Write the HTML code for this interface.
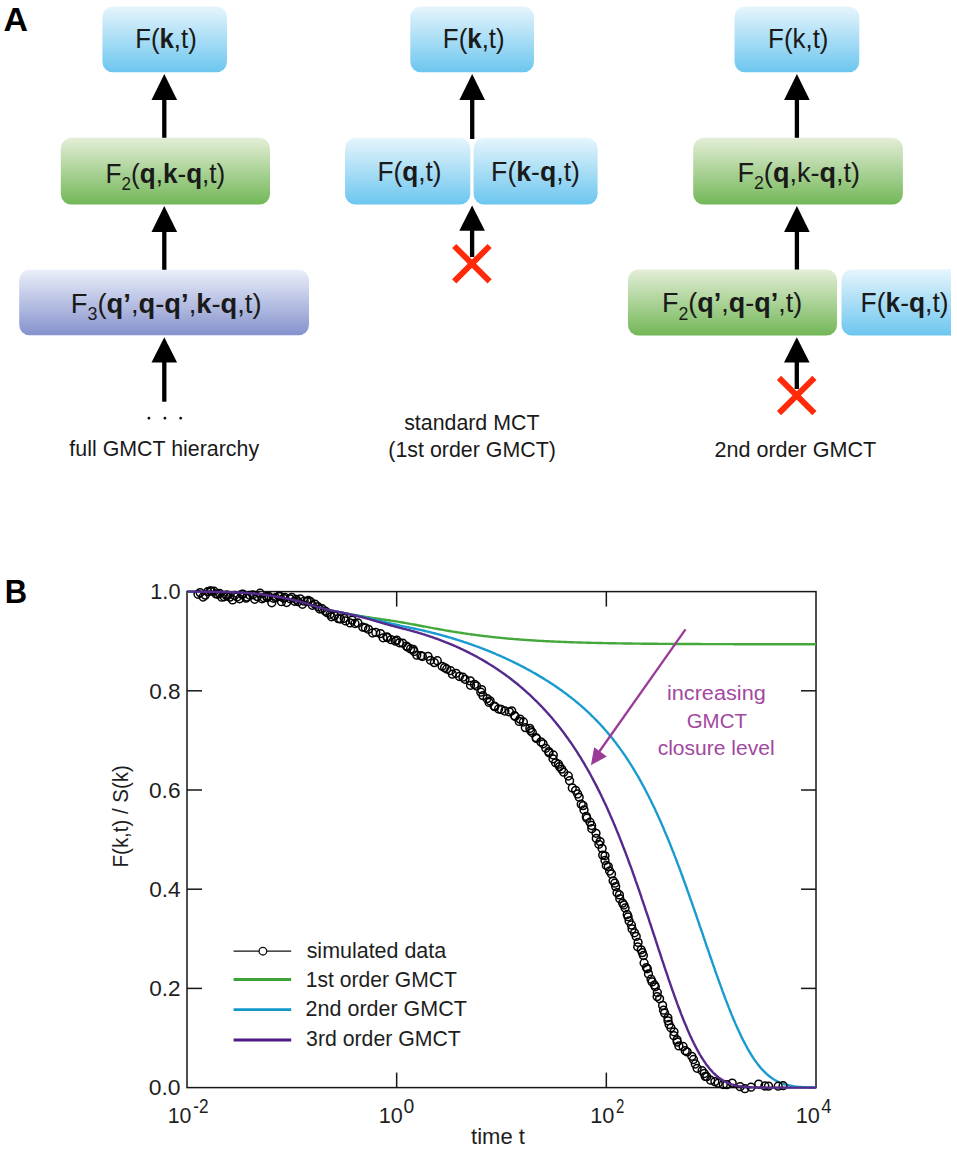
<!DOCTYPE html>
<html><head><meta charset="utf-8"><style>
html,body{margin:0;padding:0;background:#fff;width:957px;height:1150px;overflow:hidden;}
svg{display:block;font-family:"Liberation Sans",sans-serif;}
</style></head><body>
<svg width="957" height="1150" viewBox="0 0 957 1150">
<defs>
<linearGradient id="gb" x1="0" y1="0" x2="0" y2="1"><stop offset="0" stop-color="#e6f5fc"/><stop offset="1" stop-color="#6cc6ef"/></linearGradient>
<linearGradient id="gg" x1="0" y1="0" x2="0" y2="1"><stop offset="0" stop-color="#e4eed7"/><stop offset="1" stop-color="#72b757"/></linearGradient>
<linearGradient id="gp" x1="0" y1="0" x2="0" y2="1"><stop offset="0" stop-color="#eaeff9"/><stop offset="1" stop-color="#8592cd"/></linearGradient>
<clipPath id="clipR"><rect x="0" y="0" width="951" height="1150"/></clipPath>
</defs>
<rect width="957" height="1150" fill="#fff"/>
<rect x="102.4" y="6.5" width="124.6" height="65.8" rx="10.5" ry="10.5" fill="url(#gb)"/>
<path d="M164.3,74 L177.10000000000002,100 L151.5,100 Z" fill="#000"/><rect x="162.15" y="99" width="4.3" height="40" fill="#000"/>
<rect x="60.8" y="137.8" width="209.2" height="66.79999999999998" rx="10.5" ry="10.5" fill="url(#gg)"/>
<path d="M164.3,206 L177.10000000000002,232 L151.5,232 Z" fill="#000"/><rect x="162.15" y="231" width="4.3" height="39" fill="#000"/>
<rect x="19.2" y="269.7" width="289.8" height="65.60000000000002" rx="10.5" ry="10.5" fill="url(#gp)"/>
<path d="M164.3,337.2 L177.10000000000002,362.6 L151.5,362.6 Z" fill="#000"/><rect x="162.15" y="361.6" width="4.3" height="40.099999999999966" fill="#000"/>
<circle cx="148.9" cy="418.2" r="1.35" fill="#111"/>
<circle cx="164.9" cy="418.2" r="1.35" fill="#111"/>
<circle cx="180.7" cy="418.2" r="1.35" fill="#111"/>
<rect x="410.3" y="6.5" width="123.69999999999999" height="65.8" rx="10.5" ry="10.5" fill="url(#gb)"/>
<path d="M472.2,74 L485.0,100 L459.4,100 Z" fill="#000"/><rect x="470.05" y="99" width="4.3" height="40" fill="#000"/>
<rect x="345" y="137.8" width="125.30000000000001" height="66.79999999999998" rx="10.5" ry="10.5" fill="url(#gb)"/>
<rect x="473.6" y="137.8" width="124.0" height="66.79999999999998" rx="10.5" ry="10.5" fill="url(#gb)"/>
<path d="M472.1,205.5 L484.90000000000003,230.8 L459.3,230.8 Z" fill="#000"/><rect x="469.95000000000005" y="229.8" width="4.3" height="27.19999999999999" fill="#000"/>
<path d="M454.2,246.0 L489.59999999999997,281.4 M489.59999999999997,246.0 L454.2,281.4" stroke="#ff2a0a" stroke-width="5.9"/>
<rect x="734.5" y="6.5" width="124.79999999999995" height="65.8" rx="10.5" ry="10.5" fill="url(#gb)"/>
<path d="M796.9,74 L809.6999999999999,100 L784.1,100 Z" fill="#000"/><rect x="794.75" y="99" width="4.3" height="40" fill="#000"/>
<rect x="693.2" y="137.8" width="209.69999999999993" height="66.79999999999998" rx="10.5" ry="10.5" fill="url(#gg)"/>
<path d="M796.9,206 L809.6999999999999,232 L784.1,232 Z" fill="#000"/><rect x="794.75" y="231" width="4.3" height="39" fill="#000"/>
<rect x="628" y="269.5" width="209" height="66.0" rx="10.5" ry="10.5" fill="url(#gg)"/>
<rect x="841.5" y="269.5" width="123.5" height="66.0" rx="10.5" ry="10.5" fill="url(#gb)" clip-path="url(#clipR)"/>
<path d="M796.8,337.2 L809.5999999999999,362.5 L784.0,362.5 Z" fill="#000"/><rect x="794.65" y="361.5" width="4.3" height="27.5" fill="#000"/>
<path d="M779.0,377.8 L814.4000000000001,413.2 M814.4000000000001,377.8 L779.0,413.2" stroke="#ff2a0a" stroke-width="5.9"/>
<rect x="187.0" y="591.6" width="629.0" height="495.9999999999999" fill="none" stroke="#161616" stroke-width="1.5"/>
<line x1="396.66666666666663" y1="591.6" x2="396.66666666666663" y2="606.6" stroke="#161616" stroke-width="1.5"/>
<line x1="396.66666666666663" y1="1087.6" x2="396.66666666666663" y2="1072.6" stroke="#161616" stroke-width="1.5"/>
<line x1="606.3333333333333" y1="591.6" x2="606.3333333333333" y2="606.6" stroke="#161616" stroke-width="1.5"/>
<line x1="606.3333333333333" y1="1087.6" x2="606.3333333333333" y2="1072.6" stroke="#161616" stroke-width="1.5"/>
<line x1="187.0" y1="988.3999999999999" x2="202.0" y2="988.3999999999999" stroke="#161616" stroke-width="1.5"/>
<line x1="816.0" y1="988.3999999999999" x2="801.0" y2="988.3999999999999" stroke="#161616" stroke-width="1.5"/>
<line x1="187.0" y1="889.1999999999999" x2="202.0" y2="889.1999999999999" stroke="#161616" stroke-width="1.5"/>
<line x1="816.0" y1="889.1999999999999" x2="801.0" y2="889.1999999999999" stroke="#161616" stroke-width="1.5"/>
<line x1="187.0" y1="790.0" x2="202.0" y2="790.0" stroke="#161616" stroke-width="1.5"/>
<line x1="816.0" y1="790.0" x2="801.0" y2="790.0" stroke="#161616" stroke-width="1.5"/>
<line x1="187.0" y1="690.8" x2="202.0" y2="690.8" stroke="#161616" stroke-width="1.5"/>
<line x1="816.0" y1="690.8" x2="801.0" y2="690.8" stroke="#161616" stroke-width="1.5"/>
<path d="M187.0,591.60 L188.3,591.60 L189.5,591.60 L190.8,591.61 L192.0,591.61 L193.3,591.62 L194.6,591.62 L195.8,591.63 L197.1,591.64 L198.3,591.65 L199.6,591.66 L200.9,591.68 L202.1,591.69 L203.4,591.70 L204.6,591.72 L205.9,591.74 L207.2,591.75 L208.4,591.77 L209.7,591.79 L210.9,591.81 L212.2,591.83 L213.5,591.86 L214.7,591.88 L216.0,591.90 L217.3,591.93 L218.5,591.95 L219.8,591.98 L221.0,592.00 L222.3,592.03 L223.6,592.05 L224.8,592.08 L226.1,592.11 L227.3,592.14 L228.6,592.17 L229.9,592.20 L231.1,592.23 L232.4,592.26 L233.6,592.31 L234.9,592.35 L236.2,592.40 L237.4,592.46 L238.7,592.52 L239.9,592.58 L241.2,592.65 L242.5,592.72 L243.7,592.79 L245.0,592.87 L246.2,592.95 L247.5,593.03 L248.8,593.11 L250.0,593.20 L251.3,593.30 L252.5,593.40 L253.8,593.52 L255.1,593.64 L256.3,593.78 L257.6,593.92 L258.8,594.07 L260.1,594.22 L261.4,594.38 L262.6,594.55 L263.9,594.72 L265.2,594.89 L266.4,595.06 L267.7,595.24 L268.9,595.42 L270.2,595.62 L271.5,595.82 L272.7,596.03 L274.0,596.24 L275.2,596.46 L276.5,596.69 L277.8,596.92 L279.0,597.16 L280.3,597.40 L281.5,597.64 L282.8,597.88 L284.1,598.13 L285.3,598.38 L286.6,598.63 L287.8,598.88 L289.1,599.15 L290.4,599.41 L291.6,599.68 L292.9,599.96 L294.1,600.24 L295.4,600.53 L296.7,600.83 L297.9,601.13 L299.2,601.44 L300.4,601.76 L301.7,602.10 L303.0,602.46 L304.2,602.83 L305.5,603.22 L306.7,603.62 L308.0,604.03 L309.3,604.43 L310.5,604.84 L311.8,605.25 L313.1,605.65 L314.3,606.04 L315.6,606.42 L316.8,606.78 L318.1,607.13 L319.4,607.48 L320.6,607.82 L321.9,608.16 L323.1,608.50 L324.4,608.83 L325.7,609.15 L326.9,609.46 L328.2,609.77 L329.4,610.07 L330.7,610.36 L332.0,610.64 L333.2,610.92 L334.5,611.20 L335.7,611.46 L337.0,611.73 L338.3,611.98 L339.5,612.24 L340.8,612.49 L342.0,612.73 L343.3,612.98 L344.6,613.22 L345.8,613.46 L347.1,613.69 L348.3,613.92 L349.6,614.15 L350.9,614.37 L352.1,614.59 L353.4,614.81 L354.6,615.03 L355.9,615.25 L357.2,615.46 L358.4,615.67 L359.7,615.89 L361.0,616.09 L362.2,616.30 L363.5,616.51 L364.7,616.71 L366.0,616.91 L367.3,617.11 L368.5,617.30 L369.8,617.50 L371.0,617.69 L372.3,617.88 L373.6,618.07 L374.8,618.25 L376.1,618.44 L377.3,618.62 L378.6,618.80 L379.9,618.98 L381.1,619.16 L382.4,619.34 L383.6,619.53 L384.9,619.71 L386.2,619.89 L387.4,620.08 L388.7,620.26 L389.9,620.45 L391.2,620.65 L392.5,620.84 L393.7,621.04 L395.0,621.23 L396.2,621.44 L397.5,621.64 L398.8,621.85 L400.0,622.06 L401.3,622.28 L402.5,622.49 L403.8,622.71 L405.1,622.93 L406.3,623.16 L407.6,623.38 L408.9,623.61 L410.1,623.84 L411.4,624.08 L412.6,624.31 L413.9,624.55 L415.2,624.78 L416.4,625.02 L417.7,625.26 L418.9,625.50 L420.2,625.74 L421.5,625.98 L422.7,626.22 L424.0,626.46 L425.2,626.69 L426.5,626.93 L427.8,627.17 L429.0,627.40 L430.3,627.63 L431.5,627.87 L432.8,628.10 L434.1,628.33 L435.3,628.56 L436.6,628.79 L437.8,629.01 L439.1,629.24 L440.4,629.46 L441.6,629.69 L442.9,629.91 L444.1,630.13 L445.4,630.34 L446.7,630.56 L447.9,630.77 L449.2,630.99 L450.4,631.20 L451.7,631.40 L453.0,631.61 L454.2,631.82 L455.5,632.02 L456.8,632.22 L458.0,632.42 L459.3,632.62 L460.5,632.81 L461.8,633.00 L463.1,633.19 L464.3,633.38 L465.6,633.57 L466.8,633.75 L468.1,633.93 L469.4,634.11 L470.6,634.29 L471.9,634.46 L473.1,634.64 L474.4,634.81 L475.7,634.98 L476.9,635.14 L478.2,635.31 L479.4,635.47 L480.7,635.63 L482.0,635.78 L483.2,635.94 L484.5,636.09 L485.7,636.24 L487.0,636.39 L488.3,636.54 L489.5,636.68 L490.8,636.82 L492.0,636.96 L493.3,637.10 L494.6,637.24 L495.8,637.37 L497.1,637.50 L498.3,637.63 L499.6,637.76 L500.9,637.88 L502.1,638.00 L503.4,638.12 L504.7,638.24 L505.9,638.36 L507.2,638.47 L508.4,638.59 L509.7,638.70 L511.0,638.81 L512.2,638.91 L513.5,639.02 L514.7,639.12 L516.0,639.22 L517.3,639.32 L518.5,639.42 L519.8,639.52 L521.0,639.61 L522.3,639.71 L523.6,639.80 L524.8,639.89 L526.1,639.98 L527.3,640.06 L528.6,640.15 L529.9,640.23 L531.1,640.31 L532.4,640.39 L533.6,640.47 L534.9,640.55 L536.2,640.62 L537.4,640.70 L538.7,640.77 L539.9,640.84 L541.2,640.91 L542.5,640.98 L543.7,641.05 L545.0,641.12 L546.2,641.18 L547.5,641.24 L548.8,641.31 L550.0,641.37 L551.3,641.43 L552.6,641.49 L553.8,641.55 L555.1,641.60 L556.3,641.66 L557.6,641.71 L558.9,641.77 L560.1,641.82 L561.4,641.87 L562.6,641.92 L563.9,641.97 L565.2,642.02 L566.4,642.06 L567.7,642.11 L568.9,642.16 L570.2,642.20 L571.5,642.24 L572.7,642.29 L574.0,642.33 L575.2,642.37 L576.5,642.41 L577.8,642.45 L579.0,642.49 L580.3,642.53 L581.5,642.56 L582.8,642.60 L584.1,642.63 L585.3,642.67 L586.6,642.70 L587.8,642.74 L589.1,642.77 L590.4,642.80 L591.6,642.83 L592.9,642.86 L594.1,642.89 L595.4,642.92 L596.7,642.95 L597.9,642.98 L599.2,643.01 L600.5,643.04 L601.7,643.06 L603.0,643.09 L604.2,643.11 L605.5,643.14 L606.8,643.16 L608.0,643.19 L609.3,643.21 L610.5,643.23 L611.8,643.26 L613.1,643.28 L614.3,643.30 L615.6,643.32 L616.8,643.34 L618.1,643.36 L619.4,643.38 L620.6,643.40 L621.9,643.42 L623.1,643.44 L624.4,643.46 L625.7,643.48 L626.9,643.49 L628.2,643.51 L629.4,643.53 L630.7,643.54 L632.0,643.56 L633.2,643.58 L634.5,643.59 L635.7,643.61 L637.0,643.62 L638.3,643.64 L639.5,643.65 L640.8,643.66 L642.0,643.68 L643.3,643.69 L644.6,643.70 L645.8,643.72 L647.1,643.73 L648.4,643.74 L649.6,643.75 L650.9,643.77 L652.1,643.78 L653.4,643.79 L654.7,643.80 L655.9,643.81 L657.2,643.82 L658.4,643.83 L659.7,643.84 L661.0,643.85 L662.2,643.86 L663.5,643.87 L664.7,643.88 L666.0,643.89 L667.3,643.90 L668.5,643.91 L669.8,643.91 L671.0,643.92 L672.3,643.93 L673.6,643.94 L674.8,643.95 L676.1,643.95 L677.3,643.96 L678.6,643.97 L679.9,643.98 L681.1,643.98 L682.4,643.99 L683.6,644.00 L684.9,644.00 L686.2,644.01 L687.4,644.02 L688.7,644.02 L689.9,644.03 L691.2,644.03 L692.5,644.04 L693.7,644.05 L695.0,644.05 L696.3,644.06 L697.5,644.06 L698.8,644.07 L700.0,644.07 L701.3,644.08 L702.6,644.08 L703.8,644.09 L705.1,644.09 L706.3,644.10 L707.6,644.10 L708.9,644.11 L710.1,644.11 L711.4,644.11 L712.6,644.12 L713.9,644.12 L715.2,644.13 L716.4,644.13 L717.7,644.13 L718.9,644.14 L720.2,644.14 L721.5,644.14 L722.7,644.15 L724.0,644.15 L725.2,644.15 L726.5,644.16 L727.8,644.16 L729.0,644.16 L730.3,644.17 L731.5,644.17 L732.8,644.17 L734.1,644.18 L735.3,644.18 L736.6,644.18 L737.8,644.18 L739.1,644.19 L740.4,644.19 L741.6,644.19 L742.9,644.19 L744.2,644.20 L745.4,644.20 L746.7,644.20 L747.9,644.20 L749.2,644.21 L750.5,644.21 L751.7,644.21 L753.0,644.21 L754.2,644.21 L755.5,644.22 L756.8,644.22 L758.0,644.22 L759.3,644.22 L760.5,644.22 L761.8,644.23 L763.1,644.23 L764.3,644.23 L765.6,644.23 L766.8,644.23 L768.1,644.23 L769.4,644.24 L770.6,644.24 L771.9,644.24 L773.1,644.24 L774.4,644.24 L775.7,644.24 L776.9,644.24 L778.2,644.25 L779.4,644.25 L780.7,644.25 L782.0,644.25 L783.2,644.25 L784.5,644.25 L785.7,644.25 L787.0,644.25 L788.3,644.26 L789.5,644.26 L790.8,644.26 L792.1,644.26 L793.3,644.26 L794.6,644.26 L795.8,644.26 L797.1,644.26 L798.4,644.26 L799.6,644.27 L800.9,644.27 L802.1,644.27 L803.4,644.27 L804.7,644.27 L805.9,644.27 L807.2,644.27 L808.4,644.27 L809.7,644.27 L811.0,644.27 L812.2,644.27 L813.5,644.27 L814.7,644.28 L816.0,644.28" fill="none" stroke="#45a83a" stroke-width="2.4"/>
<path d="M187.0,591.60 L188.3,591.60 L189.5,591.60 L190.8,591.61 L192.0,591.61 L193.3,591.62 L194.6,591.62 L195.8,591.63 L197.1,591.64 L198.3,591.65 L199.6,591.66 L200.9,591.68 L202.1,591.69 L203.4,591.70 L204.6,591.72 L205.9,591.74 L207.2,591.75 L208.4,591.77 L209.7,591.79 L210.9,591.81 L212.2,591.83 L213.5,591.86 L214.7,591.88 L216.0,591.90 L217.3,591.93 L218.5,591.95 L219.8,591.98 L221.0,592.00 L222.3,592.03 L223.6,592.05 L224.8,592.08 L226.1,592.11 L227.3,592.14 L228.6,592.17 L229.9,592.20 L231.1,592.23 L232.4,592.26 L233.6,592.31 L234.9,592.35 L236.2,592.40 L237.4,592.46 L238.7,592.52 L239.9,592.58 L241.2,592.65 L242.5,592.72 L243.7,592.79 L245.0,592.87 L246.2,592.95 L247.5,593.03 L248.8,593.11 L250.0,593.20 L251.3,593.30 L252.5,593.40 L253.8,593.52 L255.1,593.64 L256.3,593.78 L257.6,593.92 L258.8,594.07 L260.1,594.22 L261.4,594.38 L262.6,594.55 L263.9,594.72 L265.2,594.89 L266.4,595.06 L267.7,595.24 L268.9,595.42 L270.2,595.62 L271.5,595.82 L272.7,596.03 L274.0,596.24 L275.2,596.46 L276.5,596.69 L277.8,596.92 L279.0,597.16 L280.3,597.40 L281.5,597.64 L282.8,597.88 L284.1,598.13 L285.3,598.38 L286.6,598.63 L287.8,598.88 L289.1,599.15 L290.4,599.41 L291.6,599.68 L292.9,599.96 L294.1,600.24 L295.4,600.53 L296.7,600.83 L297.9,601.13 L299.2,601.44 L300.4,601.76 L301.7,602.10 L303.0,602.46 L304.2,602.83 L305.5,603.22 L306.7,603.62 L308.0,604.03 L309.3,604.43 L310.5,604.84 L311.8,605.25 L313.1,605.65 L314.3,606.04 L315.6,606.42 L316.8,606.78 L318.1,607.13 L319.4,607.48 L320.6,607.82 L321.9,608.16 L323.1,608.50 L324.4,608.83 L325.7,609.15 L326.9,609.46 L328.2,609.77 L329.4,610.07 L330.7,610.36 L332.0,610.64 L333.2,610.91 L334.5,611.18 L335.7,611.44 L337.0,611.70 L338.3,611.95 L339.5,612.20 L340.8,612.45 L342.0,612.70 L343.3,612.96 L344.6,613.21 L345.8,613.47 L347.1,613.73 L348.3,613.98 L349.6,614.24 L350.9,614.49 L352.1,614.75 L353.4,615.00 L354.6,615.26 L355.9,615.51 L357.2,615.76 L358.4,616.02 L359.7,616.27 L361.0,616.53 L362.2,616.80 L363.5,617.07 L364.7,617.35 L366.0,617.63 L367.3,617.92 L368.5,618.22 L369.8,618.52 L371.0,618.83 L372.3,619.13 L373.6,619.43 L374.8,619.74 L376.1,620.04 L377.3,620.34 L378.6,620.64 L379.9,620.94 L381.1,621.24 L382.4,621.54 L383.6,621.83 L384.9,622.13 L386.2,622.42 L387.4,622.71 L388.7,623.00 L389.9,623.29 L391.2,623.58 L392.5,623.87 L393.7,624.15 L395.0,624.44 L396.2,624.72 L397.5,625.00 L398.8,625.28 L400.0,625.56 L401.3,625.83 L402.5,626.11 L403.8,626.38 L405.1,626.65 L406.3,626.92 L407.6,627.19 L408.9,627.45 L410.1,627.72 L411.4,627.98 L412.6,628.25 L413.9,628.51 L415.2,628.78 L416.4,629.05 L417.7,629.32 L418.9,629.60 L420.2,629.88 L421.5,630.16 L422.7,630.45 L424.0,630.75 L425.2,631.04 L426.5,631.34 L427.8,631.64 L429.0,631.95 L430.3,632.26 L431.5,632.57 L432.8,632.89 L434.1,633.21 L435.3,633.53 L436.6,633.86 L437.8,634.19 L439.1,634.53 L440.4,634.87 L441.6,635.21 L442.9,635.56 L444.1,635.91 L445.4,636.27 L446.7,636.62 L447.9,636.99 L449.2,637.35 L450.4,637.72 L451.7,638.10 L453.0,638.48 L454.2,638.86 L455.5,639.25 L456.8,639.64 L458.0,640.04 L459.3,640.44 L460.5,640.84 L461.8,641.25 L463.1,641.66 L464.3,642.08 L465.6,642.50 L466.8,642.93 L468.1,643.36 L469.4,643.79 L470.6,644.23 L471.9,644.68 L473.1,645.12 L474.4,645.58 L475.7,646.03 L476.9,646.50 L478.2,646.96 L479.4,647.44 L480.7,647.91 L482.0,648.39 L483.2,648.88 L484.5,649.37 L485.7,649.87 L487.0,650.37 L488.3,650.87 L489.5,651.38 L490.8,651.90 L492.0,652.42 L493.3,652.94 L494.6,653.47 L495.8,654.01 L497.1,654.55 L498.3,655.10 L499.6,655.65 L500.9,656.20 L502.1,656.77 L503.4,657.33 L504.7,657.91 L505.9,658.48 L507.2,659.07 L508.4,659.66 L509.7,660.25 L511.0,660.85 L512.2,661.46 L513.5,662.07 L514.7,662.69 L516.0,663.31 L517.3,663.94 L518.5,664.57 L519.8,665.22 L521.0,665.86 L522.3,666.52 L523.6,667.18 L524.8,667.84 L526.1,668.52 L527.3,669.19 L528.6,669.88 L529.9,670.57 L531.1,671.27 L532.4,671.98 L533.6,672.69 L534.9,673.41 L536.2,674.13 L537.4,674.87 L538.7,675.61 L539.9,676.36 L541.2,677.11 L542.5,677.88 L543.7,678.65 L545.0,679.43 L546.2,680.21 L547.5,681.01 L548.8,681.81 L550.0,682.63 L551.3,683.45 L552.6,684.28 L553.8,685.11 L555.1,685.96 L556.3,686.82 L557.6,687.69 L558.9,688.56 L560.1,689.45 L561.4,690.34 L562.6,691.25 L563.9,692.17 L565.2,693.09 L566.4,694.03 L567.7,694.98 L568.9,695.94 L570.2,696.92 L571.5,697.90 L572.7,698.90 L574.0,699.91 L575.2,700.93 L576.5,701.97 L577.8,703.02 L579.0,704.08 L580.3,705.16 L581.5,706.25 L582.8,707.36 L584.1,708.48 L585.3,709.61 L586.6,710.77 L587.8,711.94 L589.1,713.12 L590.4,714.32 L591.6,715.54 L592.9,716.78 L594.1,718.03 L595.4,719.31 L596.7,720.60 L597.9,721.91 L599.2,723.24 L600.5,724.60 L601.7,725.97 L603.0,727.36 L604.2,728.78 L605.5,730.22 L606.8,731.68 L608.0,733.16 L609.3,734.66 L610.5,736.20 L611.8,737.75 L613.1,739.33 L614.3,740.94 L615.6,742.57 L616.8,744.23 L618.1,745.91 L619.4,747.62 L620.6,749.36 L621.9,751.13 L623.1,752.93 L624.4,754.76 L625.7,756.61 L626.9,758.50 L628.2,760.42 L629.4,762.37 L630.7,764.35 L632.0,766.36 L633.2,768.41 L634.5,770.49 L635.7,772.60 L637.0,774.75 L638.3,776.93 L639.5,779.15 L640.8,781.40 L642.0,783.69 L643.3,786.01 L644.6,788.37 L645.8,790.77 L647.1,793.20 L648.4,795.67 L649.6,798.18 L650.9,800.72 L652.1,803.30 L653.4,805.92 L654.7,808.58 L655.9,811.27 L657.2,814.00 L658.4,816.77 L659.7,819.58 L661.0,822.43 L662.2,825.31 L663.5,828.23 L664.7,831.19 L666.0,834.19 L667.3,837.22 L668.5,840.28 L669.8,843.39 L671.0,846.53 L672.3,849.70 L673.6,852.91 L674.8,856.15 L676.1,859.43 L677.3,862.73 L678.6,866.07 L679.9,869.44 L681.1,872.84 L682.4,876.27 L683.6,879.72 L684.9,883.20 L686.2,886.71 L687.4,890.24 L688.7,893.79 L689.9,897.37 L691.2,900.96 L692.5,904.57 L693.7,908.20 L695.0,911.84 L696.3,915.50 L697.5,919.17 L698.8,922.84 L700.0,926.53 L701.3,930.22 L702.6,933.91 L703.8,937.60 L705.1,941.30 L706.3,944.99 L707.6,948.67 L708.9,952.35 L710.1,956.01 L711.4,959.67 L712.6,963.31 L713.9,966.93 L715.2,970.53 L716.4,974.11 L717.7,977.66 L718.9,981.19 L720.2,984.69 L721.5,988.15 L722.7,991.58 L724.0,994.97 L725.2,998.32 L726.5,1001.62 L727.8,1004.88 L729.0,1008.10 L730.3,1011.26 L731.5,1014.37 L732.8,1017.43 L734.1,1020.43 L735.3,1023.37 L736.6,1026.25 L737.8,1029.07 L739.1,1031.82 L740.4,1034.51 L741.6,1037.12 L742.9,1039.67 L744.2,1042.15 L745.4,1044.56 L746.7,1046.89 L747.9,1049.15 L749.2,1051.34 L750.5,1053.45 L751.7,1055.49 L753.0,1057.45 L754.2,1059.33 L755.5,1061.14 L756.8,1062.88 L758.0,1064.53 L759.3,1066.12 L760.5,1067.63 L761.8,1069.07 L763.1,1070.43 L764.3,1071.73 L765.6,1072.95 L766.8,1074.11 L768.1,1075.20 L769.4,1076.23 L770.6,1077.20 L771.9,1078.10 L773.1,1078.94 L774.4,1079.73 L775.7,1080.46 L776.9,1081.14 L778.2,1081.77 L779.4,1082.35 L780.7,1082.89 L782.0,1083.38 L783.2,1083.83 L784.5,1084.25 L785.7,1084.62 L787.0,1084.96 L788.3,1085.27 L789.5,1085.55 L790.8,1085.80 L792.1,1086.03 L793.3,1086.23 L794.6,1086.41 L795.8,1086.57 L797.1,1086.71 L798.4,1086.84 L799.6,1086.95 L800.9,1087.04 L802.1,1087.13 L803.4,1087.20 L804.7,1087.26 L805.9,1087.32 L807.2,1087.36 L808.4,1087.40 L809.7,1087.44 L811.0,1087.47 L812.2,1087.49 L813.5,1087.51 L814.7,1087.53 L816.0,1087.54" fill="none" stroke="#1a9bcf" stroke-width="2.4"/>
<g fill="none" stroke="#000" stroke-width="1.5"><circle cx="198.0" cy="594.3" r="3.9"/><circle cx="200.1" cy="592.6" r="3.9"/><circle cx="203.1" cy="597.0" r="3.9"/><circle cx="205.3" cy="595.1" r="3.9"/><circle cx="207.6" cy="591.7" r="3.9"/><circle cx="210.1" cy="590.8" r="3.9"/><circle cx="211.4" cy="591.1" r="3.9"/><circle cx="214.1" cy="591.2" r="3.9"/><circle cx="216.0" cy="593.9" r="3.9"/><circle cx="217.8" cy="594.3" r="3.9"/><circle cx="219.5" cy="593.4" r="3.9"/><circle cx="221.7" cy="597.2" r="3.9"/><circle cx="224.2" cy="596.8" r="3.9"/><circle cx="226.0" cy="595.1" r="3.9"/><circle cx="227.6" cy="595.1" r="3.9"/><circle cx="229.9" cy="597.1" r="3.9"/><circle cx="232.6" cy="599.9" r="3.9"/><circle cx="234.6" cy="595.4" r="3.9"/><circle cx="237.1" cy="596.9" r="3.9"/><circle cx="239.6" cy="598.8" r="3.9"/><circle cx="241.7" cy="594.3" r="3.9"/><circle cx="242.8" cy="594.1" r="3.9"/><circle cx="246.0" cy="598.2" r="3.9"/><circle cx="247.0" cy="597.1" r="3.9"/><circle cx="249.8" cy="595.3" r="3.9"/><circle cx="252.9" cy="594.8" r="3.9"/><circle cx="254.7" cy="599.3" r="3.9"/><circle cx="257.4" cy="596.6" r="3.9"/><circle cx="260.1" cy="593.2" r="3.9"/><circle cx="262.0" cy="598.8" r="3.9"/><circle cx="263.9" cy="597.8" r="3.9"/><circle cx="266.7" cy="596.5" r="3.9"/><circle cx="267.2" cy="597.6" r="3.9"/><circle cx="268.6" cy="596.3" r="3.9"/><circle cx="271.8" cy="602.8" r="3.9"/><circle cx="273.5" cy="598.3" r="3.9"/><circle cx="275.7" cy="597.7" r="3.9"/><circle cx="278.7" cy="596.2" r="3.9"/><circle cx="280.1" cy="596.5" r="3.9"/><circle cx="281.5" cy="601.7" r="3.9"/><circle cx="283.6" cy="598.3" r="3.9"/><circle cx="284.8" cy="597.4" r="3.9"/><circle cx="286.6" cy="602.5" r="3.9"/><circle cx="290.1" cy="598.8" r="3.9"/><circle cx="291.8" cy="597.4" r="3.9"/><circle cx="294.6" cy="601.3" r="3.9"/><circle cx="296.0" cy="599.3" r="3.9"/><circle cx="298.1" cy="601.7" r="3.9"/><circle cx="300.2" cy="598.8" r="3.9"/><circle cx="302.5" cy="604.3" r="3.9"/><circle cx="304.2" cy="601.2" r="3.9"/><circle cx="307.0" cy="601.3" r="3.9"/><circle cx="308.4" cy="600.5" r="3.9"/><circle cx="310.6" cy="601.7" r="3.9"/><circle cx="312.3" cy="605.3" r="3.9"/><circle cx="314.9" cy="604.1" r="3.9"/><circle cx="318.1" cy="606.7" r="3.9"/><circle cx="319.7" cy="609.0" r="3.9"/><circle cx="322.1" cy="608.7" r="3.9"/><circle cx="325.3" cy="611.1" r="3.9"/><circle cx="327.2" cy="612.7" r="3.9"/><circle cx="330.1" cy="614.3" r="3.9"/><circle cx="331.5" cy="616.8" r="3.9"/><circle cx="334.5" cy="615.8" r="3.9"/><circle cx="338.4" cy="618.6" r="3.9"/><circle cx="340.5" cy="619.0" r="3.9"/><circle cx="344.2" cy="618.3" r="3.9"/><circle cx="345.7" cy="620.9" r="3.9"/><circle cx="350.1" cy="622.9" r="3.9"/><circle cx="352.1" cy="620.1" r="3.9"/><circle cx="355.0" cy="623.5" r="3.9"/><circle cx="357.9" cy="622.9" r="3.9"/><circle cx="362.8" cy="627.2" r="3.9"/><circle cx="365.4" cy="627.8" r="3.9"/><circle cx="368.5" cy="629.3" r="3.9"/><circle cx="372.6" cy="633.0" r="3.9"/><circle cx="375.8" cy="632.4" r="3.9"/><circle cx="380.5" cy="633.6" r="3.9"/><circle cx="383.1" cy="637.8" r="3.9"/><circle cx="386.9" cy="636.8" r="3.9"/><circle cx="387.5" cy="637.7" r="3.9"/><circle cx="391.1" cy="639.7" r="3.9"/><circle cx="395.5" cy="641.2" r="3.9"/><circle cx="396.7" cy="640.1" r="3.9"/><circle cx="399.4" cy="642.8" r="3.9"/><circle cx="402.6" cy="643.1" r="3.9"/><circle cx="406.4" cy="646.1" r="3.9"/><circle cx="407.8" cy="647.3" r="3.9"/><circle cx="410.6" cy="648.9" r="3.9"/><circle cx="413.2" cy="649.4" r="3.9"/><circle cx="414.1" cy="651.5" r="3.9"/><circle cx="416.8" cy="655.2" r="3.9"/><circle cx="421.0" cy="655.7" r="3.9"/><circle cx="422.4" cy="656.5" r="3.9"/><circle cx="428.0" cy="656.3" r="3.9"/><circle cx="430.5" cy="660.3" r="3.9"/><circle cx="434.3" cy="662.6" r="3.9"/><circle cx="437.3" cy="660.7" r="3.9"/><circle cx="442.1" cy="666.3" r="3.9"/><circle cx="444.6" cy="667.6" r="3.9"/><circle cx="446.7" cy="669.0" r="3.9"/><circle cx="450.6" cy="670.7" r="3.9"/><circle cx="452.4" cy="674.2" r="3.9"/><circle cx="456.1" cy="673.3" r="3.9"/><circle cx="459.4" cy="676.5" r="3.9"/><circle cx="462.9" cy="677.2" r="3.9"/><circle cx="465.0" cy="679.3" r="3.9"/><circle cx="470.3" cy="680.9" r="3.9"/><circle cx="470.5" cy="685.3" r="3.9"/><circle cx="474.5" cy="684.4" r="3.9"/><circle cx="476.5" cy="686.0" r="3.9"/><circle cx="481.6" cy="689.6" r="3.9"/><circle cx="480.8" cy="692.2" r="3.9"/><circle cx="482.9" cy="695.6" r="3.9"/><circle cx="487.1" cy="698.6" r="3.9"/><circle cx="489.1" cy="702.4" r="3.9"/><circle cx="490.1" cy="700.9" r="3.9"/><circle cx="494.1" cy="706.1" r="3.9"/><circle cx="494.9" cy="706.6" r="3.9"/><circle cx="498.6" cy="709.0" r="3.9"/><circle cx="501.3" cy="709.5" r="3.9"/><circle cx="504.9" cy="711.0" r="3.9"/><circle cx="509.4" cy="711.9" r="3.9"/><circle cx="511.7" cy="710.8" r="3.9"/><circle cx="514.6" cy="715.7" r="3.9"/><circle cx="515.1" cy="716.5" r="3.9"/><circle cx="519.2" cy="721.4" r="3.9"/><circle cx="520.0" cy="719.1" r="3.9"/><circle cx="523.4" cy="722.0" r="3.9"/><circle cx="525.3" cy="727.6" r="3.9"/><circle cx="529.8" cy="728.4" r="3.9"/><circle cx="530.6" cy="730.6" r="3.9"/><circle cx="532.3" cy="732.5" r="3.9"/><circle cx="536.0" cy="737.6" r="3.9"/><circle cx="536.4" cy="738.4" r="3.9"/><circle cx="540.9" cy="741.9" r="3.9"/><circle cx="543.1" cy="743.8" r="3.9"/><circle cx="545.8" cy="748.3" r="3.9"/><circle cx="548.8" cy="751.6" r="3.9"/><circle cx="549.0" cy="752.8" r="3.9"/><circle cx="553.3" cy="755.0" r="3.9"/><circle cx="553.0" cy="758.8" r="3.9"/><circle cx="555.6" cy="762.8" r="3.9"/><circle cx="558.5" cy="764.2" r="3.9"/><circle cx="559.5" cy="766.6" r="3.9"/><circle cx="561.6" cy="769.1" r="3.9"/><circle cx="563.7" cy="772.2" r="3.9"/><circle cx="568.3" cy="776.0" r="3.9"/><circle cx="569.6" cy="780.7" r="3.9"/><circle cx="572.3" cy="787.9" r="3.9"/><circle cx="575.6" cy="790.3" r="3.9"/><circle cx="577.7" cy="794.0" r="3.9"/><circle cx="579.2" cy="797.3" r="3.9"/><circle cx="581.2" cy="804.2" r="3.9"/><circle cx="583.1" cy="805.6" r="3.9"/><circle cx="584.0" cy="809.9" r="3.9"/><circle cx="586.3" cy="816.4" r="3.9"/><circle cx="586.9" cy="818.2" r="3.9"/><circle cx="590.0" cy="822.2" r="3.9"/><circle cx="591.6" cy="825.5" r="3.9"/><circle cx="591.8" cy="828.7" r="3.9"/><circle cx="596.0" cy="833.3" r="3.9"/><circle cx="596.3" cy="838.4" r="3.9"/><circle cx="600.1" cy="841.6" r="3.9"/><circle cx="598.9" cy="844.3" r="3.9"/><circle cx="602.1" cy="848.4" r="3.9"/><circle cx="602.7" cy="855.1" r="3.9"/><circle cx="605.0" cy="855.8" r="3.9"/><circle cx="605.0" cy="860.4" r="3.9"/><circle cx="606.3" cy="865.4" r="3.9"/><circle cx="608.3" cy="866.6" r="3.9"/><circle cx="609.6" cy="871.0" r="3.9"/><circle cx="611.5" cy="873.9" r="3.9"/><circle cx="613.1" cy="880.8" r="3.9"/><circle cx="614.8" cy="883.2" r="3.9"/><circle cx="615.7" cy="886.6" r="3.9"/><circle cx="617.0" cy="892.7" r="3.9"/><circle cx="619.4" cy="894.9" r="3.9"/><circle cx="619.8" cy="898.7" r="3.9"/><circle cx="622.6" cy="903.1" r="3.9"/><circle cx="623.9" cy="905.0" r="3.9"/><circle cx="625.1" cy="908.0" r="3.9"/><circle cx="627.2" cy="914.5" r="3.9"/><circle cx="628.1" cy="916.8" r="3.9"/><circle cx="629.1" cy="921.0" r="3.9"/><circle cx="631.4" cy="925.0" r="3.9"/><circle cx="632.1" cy="929.0" r="3.9"/><circle cx="634.5" cy="932.8" r="3.9"/><circle cx="636.2" cy="936.4" r="3.9"/><circle cx="638.1" cy="942.4" r="3.9"/><circle cx="637.7" cy="946.8" r="3.9"/><circle cx="641.2" cy="949.8" r="3.9"/><circle cx="642.3" cy="952.6" r="3.9"/><circle cx="643.4" cy="955.5" r="3.9"/><circle cx="644.1" cy="963.0" r="3.9"/><circle cx="646.4" cy="967.6" r="3.9"/><circle cx="647.4" cy="968.8" r="3.9"/><circle cx="648.5" cy="973.9" r="3.9"/><circle cx="651.0" cy="979.2" r="3.9"/><circle cx="652.1" cy="981.9" r="3.9"/><circle cx="654.5" cy="985.0" r="3.9"/><circle cx="655.3" cy="986.8" r="3.9"/><circle cx="657.3" cy="992.5" r="3.9"/><circle cx="657.1" cy="996.6" r="3.9"/><circle cx="659.6" cy="998.8" r="3.9"/><circle cx="662.6" cy="1005.4" r="3.9"/><circle cx="663.5" cy="1010.2" r="3.9"/><circle cx="664.6" cy="1013.1" r="3.9"/><circle cx="667.9" cy="1017.8" r="3.9"/><circle cx="668.0" cy="1020.8" r="3.9"/><circle cx="669.1" cy="1024.5" r="3.9"/><circle cx="670.9" cy="1027.8" r="3.9"/><circle cx="674.0" cy="1031.8" r="3.9"/><circle cx="673.9" cy="1035.7" r="3.9"/><circle cx="677.0" cy="1039.9" r="3.9"/><circle cx="677.2" cy="1042.0" r="3.9"/><circle cx="678.9" cy="1045.9" r="3.9"/><circle cx="683.1" cy="1046.5" r="3.9"/><circle cx="685.2" cy="1050.7" r="3.9"/><circle cx="687.1" cy="1051.9" r="3.9"/><circle cx="691.8" cy="1056.3" r="3.9"/><circle cx="693.5" cy="1059.5" r="3.9"/><circle cx="695.3" cy="1064.0" r="3.9"/><circle cx="697.1" cy="1068.3" r="3.9"/><circle cx="702.1" cy="1070.7" r="3.9"/><circle cx="704.3" cy="1073.5" r="3.9"/><circle cx="705.3" cy="1076.4" r="3.9"/><circle cx="706.8" cy="1076.7" r="3.9"/><circle cx="710.6" cy="1080.2" r="3.9"/><circle cx="714.9" cy="1081.6" r="3.9"/><circle cx="718.2" cy="1083.2" r="3.9"/><circle cx="723.3" cy="1084.5" r="3.9"/><circle cx="726.8" cy="1084.6" r="3.9"/><circle cx="732.2" cy="1083.1" r="3.9"/><circle cx="740.1" cy="1086.7" r="3.9"/><circle cx="744.9" cy="1088.7" r="3.9"/><circle cx="751.0" cy="1087.2" r="3.9"/><circle cx="758.7" cy="1084.1" r="3.9"/><circle cx="764.8" cy="1086.0" r="3.9"/><circle cx="768.5" cy="1086.1" r="3.9"/><circle cx="778.2" cy="1086.2" r="3.9"/><circle cx="783.1" cy="1085.7" r="3.9"/></g>
<path d="M187.0,591.60 L188.3,591.60 L189.5,591.60 L190.8,591.61 L192.0,591.61 L193.3,591.62 L194.6,591.62 L195.8,591.63 L197.1,591.64 L198.3,591.65 L199.6,591.66 L200.9,591.68 L202.1,591.69 L203.4,591.70 L204.6,591.72 L205.9,591.74 L207.2,591.75 L208.4,591.77 L209.7,591.79 L210.9,591.81 L212.2,591.83 L213.5,591.86 L214.7,591.88 L216.0,591.90 L217.3,591.93 L218.5,591.95 L219.8,591.98 L221.0,592.00 L222.3,592.03 L223.6,592.05 L224.8,592.08 L226.1,592.11 L227.3,592.14 L228.6,592.17 L229.9,592.20 L231.1,592.23 L232.4,592.26 L233.6,592.31 L234.9,592.35 L236.2,592.40 L237.4,592.46 L238.7,592.52 L239.9,592.58 L241.2,592.65 L242.5,592.72 L243.7,592.79 L245.0,592.87 L246.2,592.95 L247.5,593.03 L248.8,593.11 L250.0,593.20 L251.3,593.30 L252.5,593.40 L253.8,593.52 L255.1,593.64 L256.3,593.78 L257.6,593.92 L258.8,594.07 L260.1,594.22 L261.4,594.38 L262.6,594.55 L263.9,594.72 L265.2,594.89 L266.4,595.06 L267.7,595.24 L268.9,595.42 L270.2,595.62 L271.5,595.82 L272.7,596.03 L274.0,596.24 L275.2,596.46 L276.5,596.69 L277.8,596.92 L279.0,597.16 L280.3,597.40 L281.5,597.64 L282.8,597.88 L284.1,598.13 L285.3,598.38 L286.6,598.63 L287.8,598.88 L289.1,599.15 L290.4,599.41 L291.6,599.68 L292.9,599.96 L294.1,600.24 L295.4,600.53 L296.7,600.83 L297.9,601.13 L299.2,601.44 L300.4,601.76 L301.7,602.10 L303.0,602.46 L304.2,602.83 L305.5,603.22 L306.7,603.62 L308.0,604.03 L309.3,604.43 L310.5,604.84 L311.8,605.25 L313.1,605.65 L314.3,606.04 L315.6,606.42 L316.8,606.78 L318.1,607.13 L319.4,607.48 L320.6,607.82 L321.9,608.16 L323.1,608.50 L324.4,608.83 L325.7,609.15 L326.9,609.46 L328.2,609.77 L329.4,610.07 L330.7,610.36 L332.0,610.64 L333.2,610.91 L334.5,611.17 L335.7,611.42 L337.0,611.67 L338.3,611.92 L339.5,612.17 L340.8,612.42 L342.0,612.68 L343.3,612.94 L344.6,613.21 L345.8,613.48 L347.1,613.76 L348.3,614.04 L349.6,614.32 L350.9,614.60 L352.1,614.89 L353.4,615.18 L354.6,615.47 L355.9,615.76 L357.2,616.05 L358.4,616.35 L359.7,616.65 L361.0,616.95 L362.2,617.26 L363.5,617.59 L364.7,617.92 L366.0,618.25 L367.3,618.60 L368.5,618.95 L369.8,619.31 L371.0,619.68 L372.3,620.04 L373.6,620.42 L374.8,620.79 L376.1,621.16 L377.3,621.54 L378.6,621.91 L379.9,622.29 L381.1,622.66 L382.4,623.03 L383.6,623.40 L384.9,623.76 L386.2,624.12 L387.4,624.47 L388.7,624.83 L389.9,625.17 L391.2,625.52 L392.5,625.86 L393.7,626.19 L395.0,626.53 L396.2,626.86 L397.5,627.19 L398.8,627.51 L400.0,627.84 L401.3,628.16 L402.5,628.48 L403.8,628.81 L405.1,629.13 L406.3,629.46 L407.6,629.79 L408.9,630.12 L410.1,630.45 L411.4,630.79 L412.6,631.13 L413.9,631.48 L415.2,631.83 L416.4,632.19 L417.7,632.55 L418.9,632.92 L420.2,633.30 L421.5,633.68 L422.7,634.07 L424.0,634.46 L425.2,634.86 L426.5,635.27 L427.8,635.68 L429.0,636.09 L430.3,636.52 L431.5,636.94 L432.8,637.38 L434.1,637.82 L435.3,638.26 L436.6,638.71 L437.8,639.17 L439.1,639.63 L440.4,640.10 L441.6,640.58 L442.9,641.06 L444.1,641.55 L445.4,642.05 L446.7,642.55 L447.9,643.06 L449.2,643.58 L450.4,644.10 L451.7,644.63 L453.0,645.17 L454.2,645.71 L455.5,646.26 L456.8,646.82 L458.0,647.39 L459.3,647.96 L460.5,648.54 L461.8,649.13 L463.1,649.73 L464.3,650.33 L465.6,650.94 L466.8,651.56 L468.1,652.19 L469.4,652.83 L470.6,653.47 L471.9,654.12 L473.1,654.78 L474.4,655.45 L475.7,656.13 L476.9,656.81 L478.2,657.51 L479.4,658.21 L480.7,658.93 L482.0,659.65 L483.2,660.38 L484.5,661.12 L485.7,661.87 L487.0,662.63 L488.3,663.40 L489.5,664.17 L490.8,664.96 L492.0,665.76 L493.3,666.57 L494.6,667.38 L495.8,668.21 L497.1,669.05 L498.3,669.90 L499.6,670.76 L500.9,671.63 L502.1,672.51 L503.4,673.40 L504.7,674.31 L505.9,675.22 L507.2,676.15 L508.4,677.09 L509.7,678.04 L511.0,679.00 L512.2,679.97 L513.5,680.96 L514.7,681.96 L516.0,682.97 L517.3,683.99 L518.5,685.03 L519.8,686.08 L521.0,687.14 L522.3,688.22 L523.6,689.31 L524.8,690.41 L526.1,691.53 L527.3,692.67 L528.6,693.81 L529.9,694.98 L531.1,696.16 L532.4,697.35 L533.6,698.56 L534.9,699.78 L536.2,701.02 L537.4,702.28 L538.7,703.55 L539.9,704.84 L541.2,706.15 L542.5,707.48 L543.7,708.82 L545.0,710.18 L546.2,711.56 L547.5,712.96 L548.8,714.38 L550.0,715.81 L551.3,717.27 L552.6,718.75 L553.8,720.24 L555.1,721.76 L556.3,723.30 L557.6,724.86 L558.9,726.45 L560.1,728.05 L561.4,729.68 L562.6,731.33 L563.9,733.01 L565.2,734.71 L566.4,736.43 L567.7,738.18 L568.9,739.95 L570.2,741.76 L571.5,743.58 L572.7,745.44 L574.0,747.32 L575.2,749.22 L576.5,751.16 L577.8,753.13 L579.0,755.12 L580.3,757.15 L581.5,759.20 L582.8,761.29 L584.1,763.40 L585.3,765.55 L586.6,767.73 L587.8,769.94 L589.1,772.19 L590.4,774.46 L591.6,776.78 L592.9,779.12 L594.1,781.50 L595.4,783.92 L596.7,786.37 L597.9,788.86 L599.2,791.38 L600.5,793.94 L601.7,796.54 L603.0,799.17 L604.2,801.84 L605.5,804.55 L606.8,807.30 L608.0,810.08 L609.3,812.90 L610.5,815.77 L611.8,818.67 L613.1,821.60 L614.3,824.58 L615.6,827.59 L616.8,830.65 L618.1,833.74 L619.4,836.87 L620.6,840.04 L621.9,843.24 L623.1,846.48 L624.4,849.76 L625.7,853.08 L626.9,856.43 L628.2,859.81 L629.4,863.23 L630.7,866.69 L632.0,870.17 L633.2,873.69 L634.5,877.24 L635.7,880.82 L637.0,884.43 L638.3,888.06 L639.5,891.72 L640.8,895.41 L642.0,899.12 L643.3,902.85 L644.6,906.60 L645.8,910.37 L647.1,914.16 L648.4,917.96 L649.6,921.77 L650.9,925.59 L652.1,929.43 L653.4,933.26 L654.7,937.10 L655.9,940.95 L657.2,944.79 L658.4,948.63 L659.7,952.46 L661.0,956.28 L662.2,960.09 L663.5,963.89 L664.7,967.66 L666.0,971.42 L667.3,975.15 L668.5,978.86 L669.8,982.54 L671.0,986.19 L672.3,989.80 L673.6,993.37 L674.8,996.90 L676.1,1000.39 L677.3,1003.83 L678.6,1007.21 L679.9,1010.55 L681.1,1013.83 L682.4,1017.05 L683.6,1020.21 L684.9,1023.31 L686.2,1026.34 L687.4,1029.31 L688.7,1032.20 L689.9,1035.02 L691.2,1037.76 L692.5,1040.43 L693.7,1043.02 L695.0,1045.53 L696.3,1047.96 L697.5,1050.31 L698.8,1052.58 L700.0,1054.76 L701.3,1056.86 L702.6,1058.88 L703.8,1060.81 L705.1,1062.66 L706.3,1064.42 L707.6,1066.10 L708.9,1067.70 L710.1,1069.22 L711.4,1070.66 L712.6,1072.01 L713.9,1073.30 L715.2,1074.50 L716.4,1075.63 L717.7,1076.69 L718.9,1077.69 L720.2,1078.61 L721.5,1079.47 L722.7,1080.26 L724.0,1081.00 L725.2,1081.68 L726.5,1082.30 L727.8,1082.88 L729.0,1083.40 L730.3,1083.88 L731.5,1084.31 L732.8,1084.70 L734.1,1085.06 L735.3,1085.37 L736.6,1085.66 L737.8,1085.92 L739.1,1086.14 L740.4,1086.34 L741.6,1086.52 L742.9,1086.68 L744.2,1086.81 L745.4,1086.93 L746.7,1087.04 L747.9,1087.13 L749.2,1087.20 L750.5,1087.27 L751.7,1087.33 L753.0,1087.37 L754.2,1087.42 L755.5,1087.45 L756.8,1087.48 L758.0,1087.50 L759.3,1087.52 L760.5,1087.54 L761.8,1087.55 L763.1,1087.56 L764.3,1087.57 L765.6,1087.58 L766.8,1087.58 L768.1,1087.59 L769.4,1087.59 L770.6,1087.59 L771.9,1087.59 L773.1,1087.60 L774.4,1087.60 L775.7,1087.60 L776.9,1087.60 L778.2,1087.60 L779.4,1087.60 L780.7,1087.60 L782.0,1087.60 L783.2,1087.60 L784.5,1087.60 L785.7,1087.60 L787.0,1087.60 L788.3,1087.60 L789.5,1087.60 L790.8,1087.60 L792.1,1087.60 L793.3,1087.60 L794.6,1087.60 L795.8,1087.60 L797.1,1087.60 L798.4,1087.60 L799.6,1087.60 L800.9,1087.60 L802.1,1087.60 L803.4,1087.60 L804.7,1087.60 L805.9,1087.60 L807.2,1087.60 L808.4,1087.60 L809.7,1087.60 L811.0,1087.60 L812.2,1087.60 L813.5,1087.60 L814.7,1087.60 L816.0,1087.60" fill="none" stroke="#552a8c" stroke-width="2.4"/>
<path d="M685.5,629.4 L599,752" stroke="#9a3b98" stroke-width="2.3"/>
<path d="M590.9,765.2 L594.2,747.2 L606.8,756.4 Z" fill="#9a3b98"/>
<line x1="233.6" y1="951.2" x2="291.2" y2="951.2" stroke="#111" stroke-width="1.3"/>
<circle cx="262.9" cy="951.2" r="3.8" fill="#fff" stroke="#111" stroke-width="1.3"/>
<line x1="233.6" y1="979.5" x2="291.2" y2="979.5" stroke="#3ea33a" stroke-width="2.8"/>
<line x1="233.6" y1="1009.6" x2="291.2" y2="1009.6" stroke="#1296cc" stroke-width="2.8"/>
<line x1="233.6" y1="1040" x2="291.2" y2="1040" stroke="#4b1d82" stroke-width="2.8"/>
<text id="L1" x="166" y="48.1" font-size="27.5" text-anchor="middle" fill="#1a1a1a" font-weight="normal" transform="translate(166.00,0) scale(0.9355,1) translate(-166.00,0)">F(<tspan font-weight="bold">k</tspan>,t)</text>
<text id="L2" x="166" y="182.6" font-size="27.5" text-anchor="middle" fill="#1a1a1a" font-weight="normal" transform="translate(165.43,0) scale(0.9496,1) translate(-166.00,0)">F<tspan font-size="18" dy="7.3">2</tspan><tspan dy="-7.3">(<tspan font-weight="bold">q</tspan>,<tspan font-weight="bold">k</tspan>-<tspan font-weight="bold">q</tspan>,t)</tspan></text>
<text id="L3" x="166" y="312.9" font-size="27.5" text-anchor="middle" fill="#1a1a1a" font-weight="normal" transform="translate(166.20,0) scale(0.9947,1) translate(-166.00,0)">F<tspan font-size="18" dy="7.3">3</tspan><tspan dy="-7.3">(<tspan font-weight="bold">q’</tspan>,<tspan font-weight="bold">q</tspan>-<tspan font-weight="bold">q’</tspan>,<tspan font-weight="bold">k</tspan>-<tspan font-weight="bold">q</tspan>,t)</tspan></text>
<text id="L5" x="164" y="455.9" font-size="22" text-anchor="middle" fill="#1a1a1a" font-weight="normal" transform="translate(164.25,0) scale(0.9727,1) translate(-164.00,0)">full GMCT hierarchy</text>
<text id="M1" x="473" y="48.2" font-size="27.5" text-anchor="middle" fill="#1a1a1a" font-weight="normal" transform="translate(473.75,0) scale(0.9403,1) translate(-473.00,0)">F(<tspan font-weight="bold">k</tspan>,t)</text>
<text id="M2" x="410" y="181.2" font-size="27.5" text-anchor="middle" fill="#1a1a1a" font-weight="normal" transform="translate(409.52,0) scale(0.9556,1) translate(-410.00,0)">F(<tspan font-weight="bold">q</tspan>,t)</text>
<text id="M3" x="535" y="181.2" font-size="27.5" text-anchor="middle" fill="#1a1a1a" font-weight="normal" transform="translate(535.55,0) scale(0.9693,1) translate(-535.00,0)">F(<tspan font-weight="bold">k</tspan>-<tspan font-weight="bold">q</tspan>,t)</text>
<text id="M4" x="472" y="430.4" font-size="22" text-anchor="middle" fill="#1a1a1a" font-weight="normal" transform="translate(471.80,0) scale(0.9710,1) translate(-472.00,0)">standard MCT</text>
<text id="M5" x="472" y="457.3" font-size="22" text-anchor="middle" fill="#1a1a1a" font-weight="normal" transform="translate(472.10,0) scale(0.9718,1) translate(-472.00,0)">(1st order GMCT)</text>
<text id="R1" x="798" y="48.2" font-size="27.5" text-anchor="middle" fill="#1a1a1a" font-weight="normal" transform="translate(798.28,0) scale(0.9426,1) translate(-798.00,0)">F(k,t)</text>
<text id="R2" x="799" y="182.1" font-size="27.5" text-anchor="middle" fill="#1a1a1a" font-weight="normal" transform="translate(798.76,0) scale(0.9843,1) translate(-799.00,0)">F<tspan font-size="18" dy="7.3">2</tspan><tspan dy="-7.3">(<tspan font-weight="bold">q</tspan>,k-<tspan font-weight="bold">q</tspan>,t)</tspan></text>
<text id="R3" x="732" y="312.3" font-size="27.5" text-anchor="middle" fill="#1a1a1a" font-weight="normal" transform="translate(732.11,0) scale(0.9813,1) translate(-732.00,0)">F<tspan font-size="18" dy="7.3">2</tspan><tspan dy="-7.3">(<tspan font-weight="bold">q’</tspan>,<tspan font-weight="bold">q</tspan>-<tspan font-weight="bold">q’</tspan>,t)</tspan></text>
<text id="R4" x="904" y="312.3" font-size="27.5" text-anchor="middle" fill="#1a1a1a" font-weight="normal" transform="translate(904.60,0) scale(0.9591,1) translate(-904.00,0)">F(<tspan font-weight="bold">k</tspan>-<tspan font-weight="bold">q</tspan>,t)</text>
<text id="R5" x="796" y="457.4" font-size="22" text-anchor="middle" fill="#1a1a1a" font-weight="normal" transform="translate(795.31,0) scale(0.9804,1) translate(-796.00,0)">2nd order GMCT</text>
<text id="Y10" x="165" y="599.5" font-size="22.8" text-anchor="middle" fill="#1e1e1e" font-weight="normal" transform="translate(165.37,0) scale(0.9552,1) translate(-165.00,0)">1.0</text>
<text id="Y8" x="165" y="698.6999999999999" font-size="22.8" text-anchor="middle" fill="#1e1e1e" font-weight="normal" transform="translate(164.85,0) scale(0.9900,1) translate(-165.00,0)">0.8</text>
<text id="Y6" x="165" y="797.9" font-size="22.8" text-anchor="middle" fill="#1e1e1e" font-weight="normal" transform="translate(164.75,0) scale(0.9967,1) translate(-165.00,0)">0.6</text>
<text id="Y4" x="165" y="897.0999999999999" font-size="22.8" text-anchor="middle" fill="#1e1e1e" font-weight="normal" transform="translate(164.85,0) scale(0.9900,1) translate(-165.00,0)">0.4</text>
<text id="Y2" x="165" y="996.2999999999998" font-size="22.8" text-anchor="middle" fill="#1e1e1e" font-weight="normal" transform="translate(164.85,0) scale(0.9900,1) translate(-165.00,0)">0.2</text>
<text id="Y0" x="165" y="1095.5" font-size="22.8" text-anchor="middle" fill="#1e1e1e" font-weight="normal" transform="translate(164.60,0) scale(1.0067,1) translate(-165.00,0)">0.0</text>
<text id="X-2" x="180.05" y="1122.6" font-size="22.8" text-anchor="middle" fill="#1e1e1e" font-weight="normal" transform="translate(179.63,0) scale(0.9348,1) translate(-180.05,0)">10</text>
<text id="X0" x="391.1" y="1122.6" font-size="22.8" text-anchor="middle" fill="#1e1e1e" font-weight="normal" transform="translate(390.72,0) scale(0.9478,1) translate(-391.10,0)">10</text>
<text id="X2" x="602.9" y="1122.6" font-size="22.8" text-anchor="middle" fill="#1e1e1e" font-weight="normal" transform="translate(602.33,0) scale(0.9565,1) translate(-602.90,0)">10</text>
<text id="X4" x="808.6500000000001" y="1122.6" font-size="22.8" text-anchor="middle" fill="#1e1e1e" font-weight="normal" transform="translate(807.84,0) scale(0.9522,1) translate(-808.65,0)">10</text>
<text id="S-2" x="200.95" y="1112.7" font-size="19.5" text-anchor="middle" fill="#1e1e1e" font-weight="normal" transform="translate(200.91,0) scale(0.8812,1) translate(-200.95,0)">-2</text>
<text id="S0" x="408.95" y="1112.7" font-size="19.5" text-anchor="middle" fill="#1e1e1e" font-weight="normal" transform="translate(408.90,0) scale(0.9900,1) translate(-408.95,0)">0</text>
<text id="S2" x="620.05" y="1112.7" font-size="19.5" text-anchor="middle" fill="#1e1e1e" font-weight="normal" transform="translate(620.09,0) scale(0.7700,1) translate(-620.05,0)">2</text>
<text id="S4" x="826.25" y="1112.7" font-size="19.5" text-anchor="middle" fill="#1e1e1e" font-weight="normal" transform="translate(826.49,0) scale(0.9500,1) translate(-826.25,0)">4</text>
<text id="XL" x="498" y="1144" font-size="22" text-anchor="middle" fill="#1e1e1e" font-weight="normal" transform="translate(498.00,0) scale(1.0000,1) translate(-498.00,0)">time t</text>
<text id="LG1" x="377" y="957.6" font-size="22" text-anchor="middle" fill="#1e1e1e" font-weight="normal" transform="translate(376.41,0) scale(0.9762,1) translate(-377.00,0)">simulated data</text>
<text id="LG2" x="382" y="986.7" font-size="22" text-anchor="middle" fill="#1e1e1e" font-weight="normal" transform="translate(381.29,0) scale(0.9583,1) translate(-382.00,0)">1st order GMCT</text>
<text id="LG3" x="386" y="1016.2" font-size="22" text-anchor="middle" fill="#1e1e1e" font-weight="normal" transform="translate(386.26,0) scale(0.9773,1) translate(-386.00,0)">2nd order GMCT</text>
<text id="LG4" x="384" y="1046" font-size="22" text-anchor="middle" fill="#1e1e1e" font-weight="normal" transform="translate(383.47,0) scale(0.9667,1) translate(-384.00,0)">3rd order GMCT</text>
<text id="MG1" x="716" y="700.5" font-size="21" text-anchor="middle" fill="#a3479f" font-weight="normal" transform="translate(716.35,0) scale(1.0337,1) translate(-716.00,0)">increasing</text>
<text id="MG2" x="716" y="727.6" font-size="21" text-anchor="middle" fill="#a3479f" font-weight="normal" transform="translate(716.80,0) scale(0.9733,1) translate(-716.00,0)">GMCT</text>
<text id="MG3" x="716" y="754.8" font-size="21" text-anchor="middle" fill="#a3479f" font-weight="normal" transform="translate(716.15,0) scale(1.0026,1) translate(-716.00,0)">closure level</text>
<text id="A" x="16" y="31" font-size="33" text-anchor="middle" fill="#000" font-weight="bold" transform="translate(15.70,0) scale(1.0273,1) translate(-16.00,0)">A</text>
<text id="B" x="16" y="602.9" font-size="33" text-anchor="middle" fill="#000" font-weight="bold" transform="translate(15.98,0) scale(0.9381,1) translate(-16.00,0)">B</text>
<text x="0" y="0" font-size="22" text-anchor="middle" fill="#1e1e1e" transform="translate(127.5,816.3) rotate(-90) scale(0.93,1)">F(k,t) / S(k)</text>
</svg>
</body></html>
